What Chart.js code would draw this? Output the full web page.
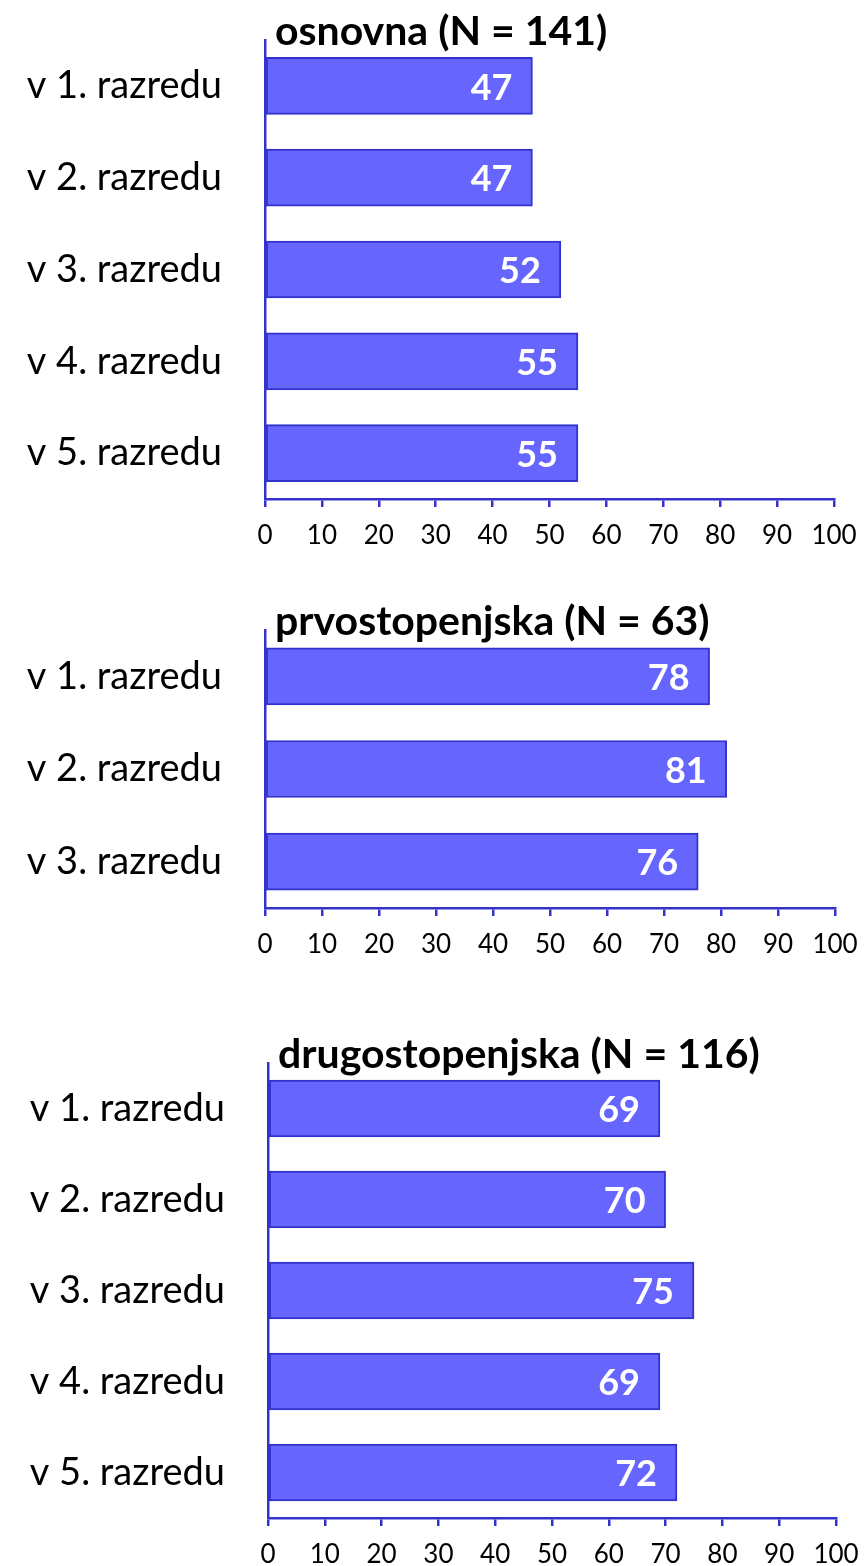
<!DOCTYPE html>
<html>
<head>
<meta charset="utf-8">
<script src="https://cdn.jsdelivr.net/npm/chart.js@4"></script>
<style>
  body { margin: 0; background: #fff; width: 867px; height: 1566px; position: relative; overflow: hidden; }
  canvas { position: absolute; left: 0; }
</style>
</head>
<body>
<canvas id="c1" width="867" height="570" style="top:0px"></canvas>
<canvas id="c2" width="867" height="390" style="top:590px"></canvas>
<canvas id="c3" width="867" height="543" style="top:1023px"></canvas>
<script>
// data
const osnovnaLabels = ['v 1. razredu', 'v 2. razredu', 'v 3. razredu', 'v 4. razredu', 'v 5. razredu'];
const osnovnaValues = [47, 47, 52, 55, 55];

const prvoLabels = ['v 1. razredu', 'v 2. razredu', 'v 3. razredu'];
const prvoValues = [78, 81, 76];

const drugoLabels = ['v 1. razredu', 'v 2. razredu', 'v 3. razredu', 'v 4. razredu', 'v 5. razredu'];
const drugoValues = [69, 70, 75, 69, 72];

const titles = ['osnovna (N = 141)', 'prvostopenjska (N = 63)', 'drugostopenjska (N = 116)'];

const BLUE = '#3333cc';
const FILL = '#6666ff';
const FONT = 'Lato';

// title drawn next to the top of the y axis
const titlePlugin = {
    id: 'leftTitle',
    afterDraw(chart, args, opts) {
        const ctx = chart.ctx;
        const area = chart.chartArea;
        ctx.save();
        ctx.font = 'bold 41px ' + FONT;
        ctx.fillStyle = '#000';
        ctx.textAlign = 'left';
        ctx.textBaseline = 'alphabetic';
        ctx.fillText(opts.text, area.left + 10, area.top + 5);
        ctx.restore();
    }
};

// white value labels inside the bar end
const valuePlugin = {
    id: 'barValues',
    afterDatasetsDraw(chart) {
        const ctx = chart.ctx;
        const meta = chart.getDatasetMeta(0);
        const data = chart.data.datasets[0].data;
        ctx.save();
        ctx.font = 'bold 36px ' + FONT;
        ctx.fillStyle = '#fff';
        ctx.textAlign = 'right';
        ctx.textBaseline = 'middle';
        meta.data.forEach(function(bar, i){
            ctx.fillText(String(data[i]), bar.x - 20, bar.y + 2);
        });
        ctx.restore();
    }
};

function makeChart(id, title, labels, values, yWidth, xHeight, rightPad){
    return new Chart(document.getElementById(id).getContext('2d'), {
        type: 'bar',
        data: {
            labels: labels,
            datasets: [{
                data: values,
                backgroundColor: FILL,
                borderColor: BLUE,
                borderWidth: 2,
                borderSkipped: false,
                barThickness: 57
            }]
        },
        options: {
            indexAxis: 'y',
            responsive: false,
            animation: false,
            layout: { padding: { top: 40, right: rightPad, left: 0, bottom: 0 } },
            plugins: {
                legend: { display: false },
                tooltip: { enabled: false },
                leftTitle: { text: title }
            },
            scales: {
                x: {
                    min: 0,
                    max: 100,
                    ticks: {
                        stepSize: 10,
                        color: '#000',
                        font: { family: FONT, size: 26 },
                        padding: 13,
                        maxRotation: 0,
                        autoSkip: false
                    },
                    grid: { drawOnChartArea: false, drawTicks: true, tickLength: 8, color: BLUE, lineWidth: 2.5 },
                    border: { color: BLUE, width: 2.5 },
                    afterFit: function(s){
                        s.height = xHeight;
                        s.paddingLeft = 0;
                        s.paddingRight = 0;
                    }
                },
                y: {
                    ticks: {
                        color: '#000',
                        font: { family: FONT, size: 38 },
                        padding: 43
                    },
                    grid: { display: false, drawTicks: false },
                    border: { color: BLUE, width: 2.5 },
                    afterFit: function(s){
                        s.width = yWidth;
                        s.paddingTop = 0;
                        s.paddingBottom = 0;
                    }
                }
            }
        },
        plugins: [titlePlugin, valuePlugin]
    });
}

makeChart('c1', titles[0], osnovnaLabels, osnovnaValues, 265, 71, 33);
makeChart('c2', titles[1], prvoLabels, prvoValues, 265, 72, 32);
makeChart('c3', titles[2], drugoLabels, drugoValues, 268, 48, 31);
</script>
</body>
</html>
